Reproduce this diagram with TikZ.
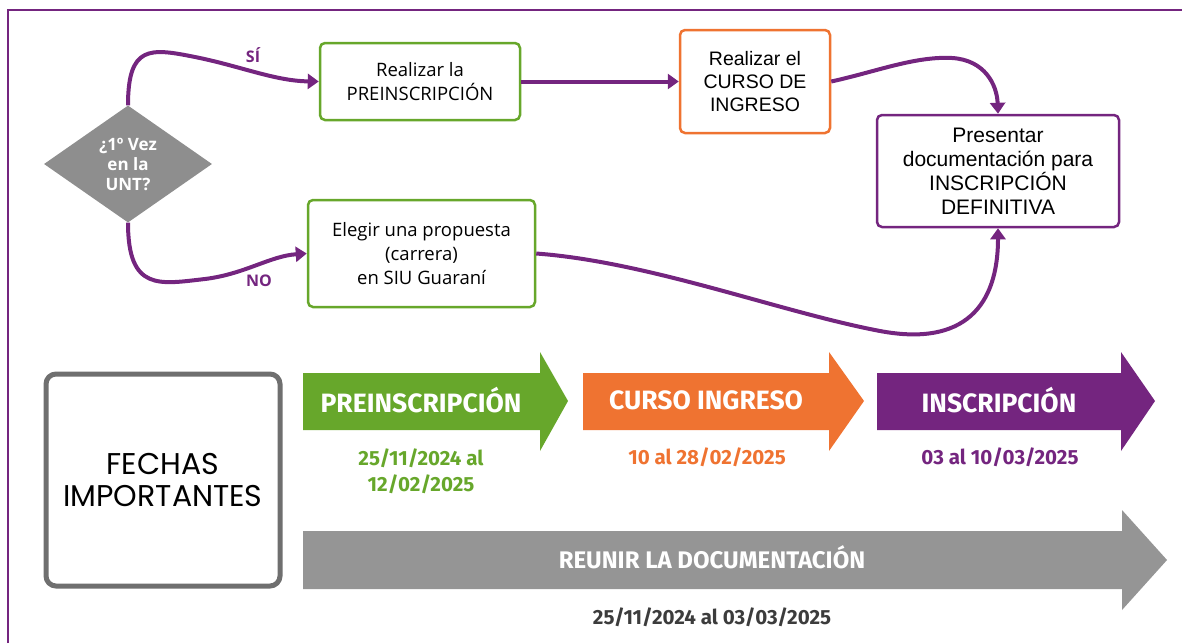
\documentclass[tikz,border=0pt]{standalone}
\usepackage{fontspec}
\setmainfont{Open Sans}
\newfontfamily\arialfont{Liberation Sans}
\newfontfamily\labelfont{Fira Sans}
\newfontfamily\fechasfont{Poppins}
\usetikzlibrary{shapes.geometric,arrows.meta}

\definecolor{unipurple}{HTML}{74257F}
\definecolor{unigreen}{HTML}{67A72B}
\definecolor{uniorange}{HTML}{EF7331}
\definecolor{unigray}{HTML}{959595}
\definecolor{diagray}{HTML}{8E8E8E}
\definecolor{boxgray}{HTML}{6F6F6F}
\definecolor{darktext}{HTML}{3C3C3C}

\tikzset{
    stepbox/.style={draw, rounded corners=5pt, line width=2.5pt, fill=white,
        align=center, inner sep=0pt, text=black},
    flow/.style={draw=unipurple, line width=4pt, -{Triangle[length=11pt,width=15pt]}},
    bandtext/.style={text=white, font=\labelfont\bfseries\fontsize{26.5}{30}\selectfont},
    datetext/.style={align=center, font=\labelfont\bfseries\fontsize{20.5}{26}\selectfont},
    answer/.style={text=unipurple, font=\bfseries\fontsize{16}{18}\selectfont},
}

\begin{document}
\begin{tikzpicture}[x=1pt,y=-1pt]
    \useasboundingbox (0,0) rectangle (1182,643);

    % Frame
    \draw [unipurple, line width=2.5pt] (8,643) -- (8,10) -- (1182,10);

    % Decision
    \node (vez) [diamond, fill=diagray, aspect=1.44, inner sep=0pt,
        minimum width=168pt, minimum height=117pt, align=center, text=white,
        font=\bfseries\fontsize{17}{20}\selectfont]
        at (128,164) {¿1º Vez\\en la\\UNT?};

    % Steps
    \node (pre) [stepbox, draw=unigreen, minimum width=200pt, minimum height=77pt,
        font=\fontsize{18.5}{24}\selectfont] at (420,81.5) {Realizar la\\PREINSCRIPCIÓN};
    \node (cur) [stepbox, draw=uniorange, minimum width=150pt, minimum height=103pt,
        font=\arialfont\fontsize{19.5}{23}\selectfont] at (755,81.5) {Realizar el\\CURSO DE\\INGRESO};
    \node (doc) [stepbox, draw=unipurple, minimum width=242pt, minimum height=112pt,
        font=\arialfont\fontsize{21}{24}\selectfont] at (998,171)
        {Presentar\\documentación para\\INSCRIPCIÓN\\DEFINITIVA};
    \node (elg) [stepbox, draw=unigreen, minimum width=227pt, minimum height=107pt,
        font=\fontsize{18.5}{24}\selectfont] at (421.5,253.5)
        {Elegir una propuesta\\(carrera)\\en SIU Guaraní};

    % Connectors
    \draw [flow] (vez.north) .. controls (128,45) and (150,48) .. (195,57)
        .. controls (240,66) and (275,81) .. (pre.west);
    \draw [flow] (vez.south) .. controls (128,292) and (160,284) .. (205,279)
        .. controls (245,274) and (270,256) .. (elg.west);
    \draw [flow] (pre.east) -- (cur.west);
    \draw [flow] (cur.east) .. controls (875,72) and (915,56) .. (952,58)
        .. controls (985,60) and (997,85) .. (doc.north);
    \draw [flow] (elg.east) .. controls (650,262) and (780,312) .. (880,331)
        .. controls (965,347) and (998,305) .. (doc.south);

    \node (si) [answer] at (253,55) {SÍ};
    \node (no) [answer] at (259,281) {NO};

    % Fechas
    \node (fechas) [draw=boxgray, line width=5pt, rounded corners=10pt,
        minimum width=234pt, minimum height=212pt, align=center,
        font=\fechasfont\fontsize{30}{32}\selectfont] at (163,480)
        {FECHAS\\IMPORTANTES};

    % Timeline arrows
    \fill [unigreen] (303,373) -- (540,373) -- (540,352) -- (568,401)
        -- (540,451) -- (540,430) -- (303,430) -- cycle;
    \fill [uniorange] (583,373) -- (829,373) -- (829,352) -- (864,401)
        -- (829,451) -- (829,430) -- (583,430) -- cycle;
    \fill [unipurple] (877,373) -- (1121,373) -- (1121,352) -- (1155,401)
        -- (1121,451) -- (1121,430) -- (877,430) -- cycle;
    \fill [unigray] (303,531) -- (1122,531) -- (1122,510) -- (1167,560)
        -- (1122,610) -- (1122,589) -- (303,589) -- cycle;

    \node (tpre) [bandtext] at (421,400) {PREINSCRIPCIÓN};
    \node (tcur) [bandtext] at (706,400) {CURSO INGRESO};
    \node (tins) [bandtext] at (999,400) {INSCRIPCIÓN};
    \node (tdoc) [bandtext, font=\labelfont\bfseries\fontsize{24}{28}\selectfont]
        at (712,557) {REUNIR LA DOCUMENTACIÓN};

    \node (dpre) [datetext, text=unigreen] at (421,471) {25/11/2024 al\\12/02/2025};
    \node (dcur) [datetext, text=uniorange] at (707,457) {10 al 28/02/2025};
    \node (dins) [datetext, text=unipurple] at (1000,457) {03 al 10/03/2025};
    \node (ddoc) [datetext, text=darktext] at (712,617) {25/11/2024 al 03/03/2025};
\end{tikzpicture}
\end{document}
